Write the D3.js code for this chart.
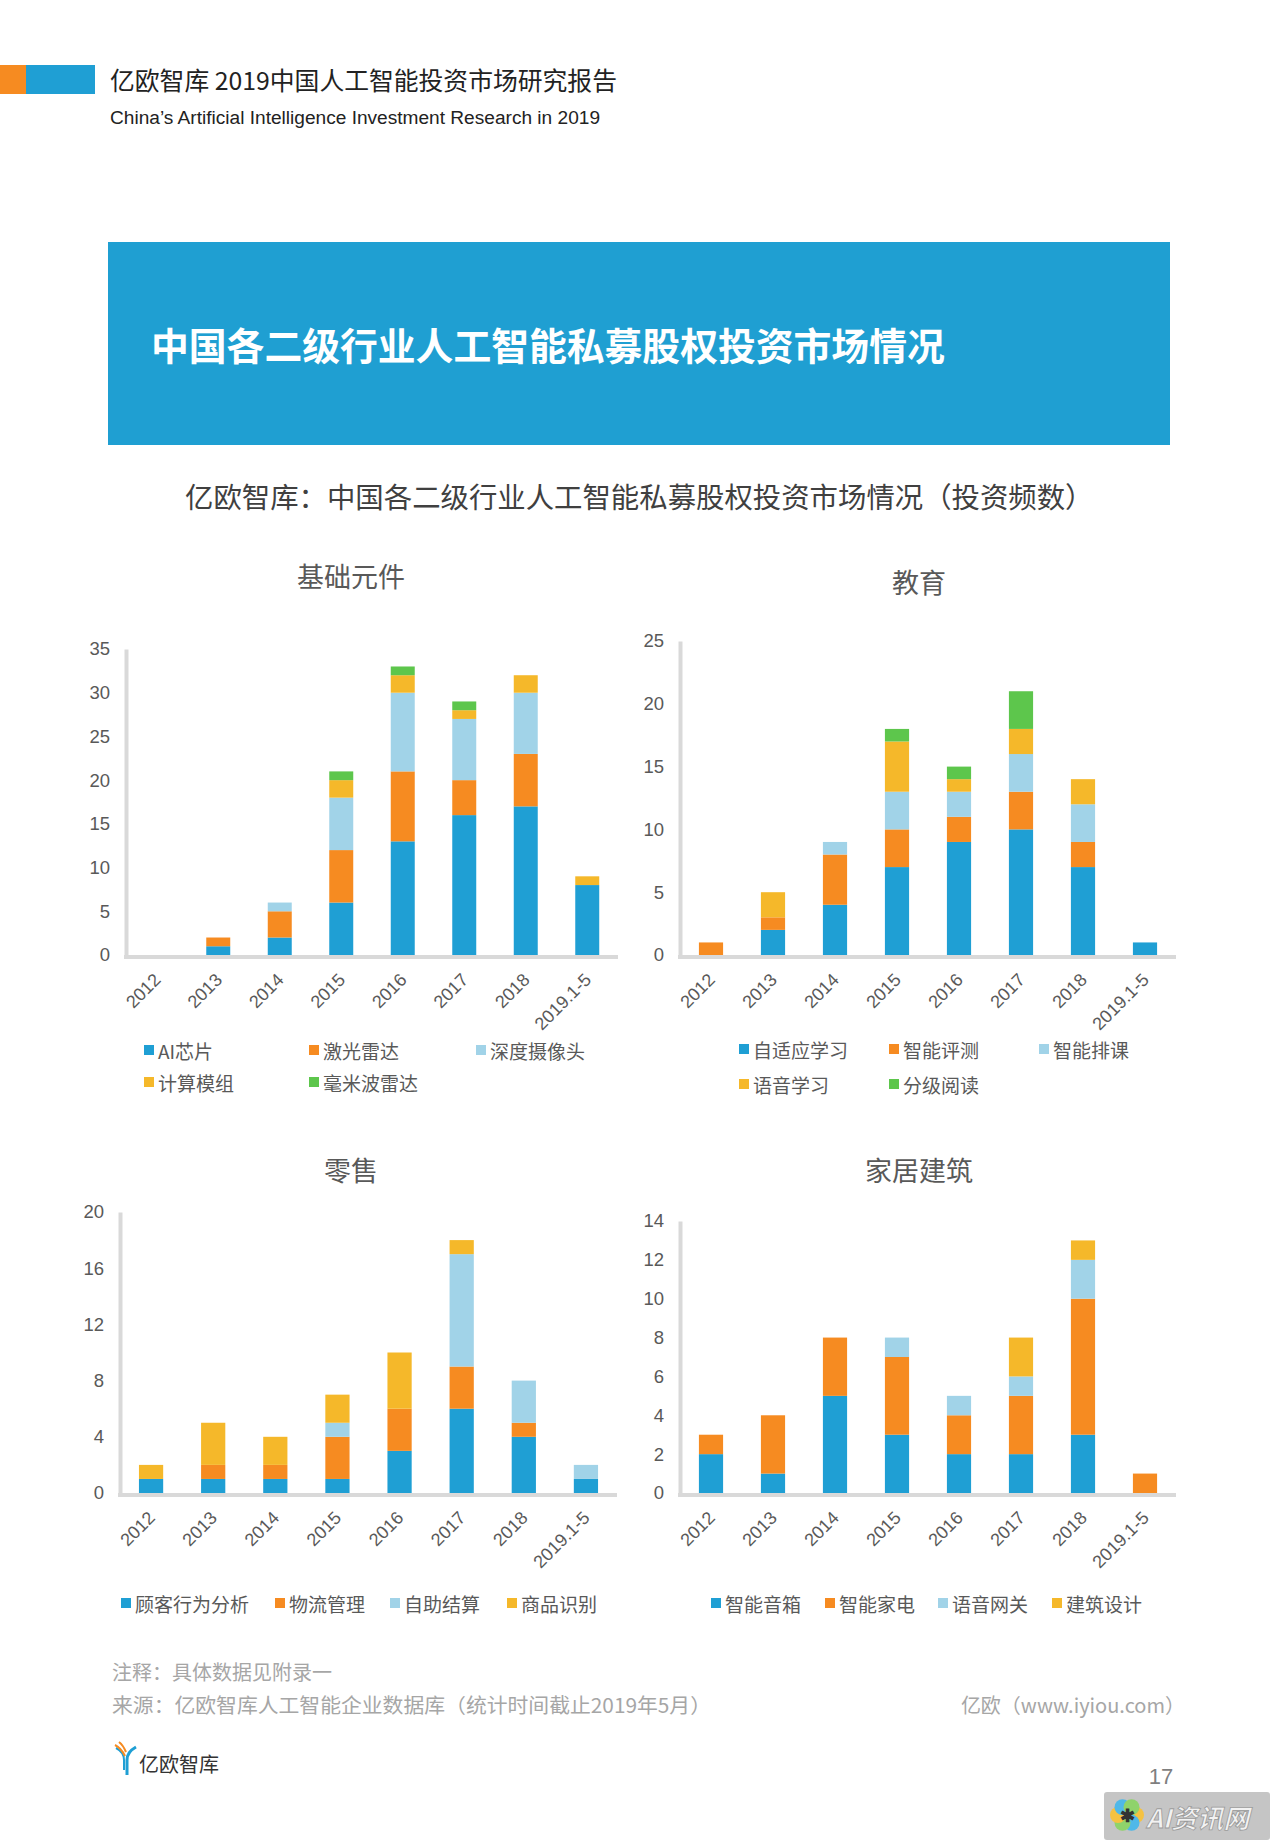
<!DOCTYPE html>
<html><head><meta charset="utf-8">
<script src="https://cdn.jsdelivr.net/npm/d3@7"></script>
<style>
body{margin:0;background:#fff}
svg{display:block}
</style>
</head><body>
<svg id="c" width="1280" height="1848"></svg>
<script>
// ---------- data ----------
const years = ["2012","2013","2014","2015","2016","2017","2018","2019.1-5"];

const basicSeries = ["AI芯片","激光雷达","深度摄像头","计算模组","毫米波雷达"];
const basicAIChip    = [0,1,2,6,13,16,17,8];
const basicLidar     = [0,1,3,6,8,4,6,0];
const basicDepthCam  = [0,0,1,6,9,7,7,0];
const basicCompute   = [0,0,0,2,2,1,2,1];
const basicMmWave    = [0,0,0,1,1,1,0,0];
const basicTicks = [0,5,10,15,20,25,30,35];

const eduSeries = ["自适应学习","智能评测","智能排课","语音学习","分级阅读"];
const eduAdaptive  = [0,2,4,7,9,10,7,1];
const eduAssess    = [1,1,4,3,2,3,2,0];
const eduSchedule  = [0,0,1,3,2,3,3,0];
const eduSpeech    = [0,2,0,4,1,2,2,0];
const eduReading   = [0,0,0,1,1,3,0,0];
const eduTicks = [0,5,10,15,20,25];

const retailSeries = ["顾客行为分析","物流管理","自助结算","商品识别"];
const retailCustomer  = [1,1,1,1,3,6,4,1];
const retailLogistics = [0,1,1,3,3,3,1,0];
const retailCheckout  = [0,0,0,1,0,8,3,1];
const retailProduct   = [1,3,2,2,4,1,0,0];
const retailTicks = [0,4,8,12,16,20];

const homeSeries = ["智能音箱","智能家电","语音网关","建筑设计"];
const homeSpeaker   = [2,1,5,3,2,2,3,0];
const homeAppliance = [1,3,3,4,2,3,7,1];
const homeGateway   = [0,0,0,1,1,1,2,0];
const homeDesign    = [0,0,0,0,0,2,1,0];
const homeTicks = [0,2,4,6,8,10,12,14];

const colors = ["#1f9fd4","#f68b21","#a1d3e8","#f5b82a","#5dc64c"];

// ---------- drawing ----------
const FONT = "'Liberation Sans','Noto Sans CJK SC',sans-serif";
const CJK = "'Noto Sans CJK SC','Liberation Sans',sans-serif";
const svg = d3.select("#c");
svg.append("rect").attr("width",1280).attr("height",1848).attr("fill","#fff");

// header
svg.append("rect").attr("x",0).attr("y",65).attr("width",26).attr("height",29).attr("fill","#f68b21");
svg.append("rect").attr("x",26).attr("y",65).attr("width",69).attr("height",29).attr("fill","#1f9fd4");
svg.append("text").attr("x",110).attr("y",90).attr("font-family",CJK).attr("font-size",24.8)
  .attr("fill","#222").text("亿欧智库 2019中国人工智能投资市场研究报告");
svg.append("text").attr("x",110).attr("y",124).attr("font-family",FONT).attr("font-size",18)
  .attr("fill","#222").attr("textLength",490).attr("lengthAdjust","spacingAndGlyphs")
  .text("China’s Artificial Intelligence Investment Research in 2019");

// banner
svg.append("rect").attr("x",108).attr("y",242).attr("width",1062).attr("height",203).attr("fill","#1f9fd2");
svg.append("text").attr("x",151).attr("y",343).attr("dominant-baseline","central")
  .attr("font-family",CJK).attr("font-size",37.8).attr("font-weight","bold").attr("fill","#fff")
  .text("中国各二级行业人工智能私募股权投资市场情况");

// main title
svg.append("text").attr("x",185).attr("y",495).attr("dominant-baseline","central")
  .attr("font-family",CJK).attr("font-size",28.4).attr("fill","#404040")
  .text("亿欧智库：中国各二级行业人工智能私募股权投资市场情况（投资频数）");

function drawChart(cfg){
  const g = svg.append("g");
  const x = d3.scaleBand().domain(years).range([cfg.left,cfg.right]).paddingInner(0.61).paddingOuter(0.305);
  const y = d3.scaleLinear().domain([0,cfg.ticks[cfg.ticks.length-1]]).range([cfg.bottom,cfg.top]);
  const table = years.map((yr,i)=>{const o={year:yr}; cfg.series.forEach((s,j)=>o[s]=cfg.values[j][i]); return o;});
  const stacked = d3.stack().keys(cfg.series)(table);

  g.append("text").attr("x",cfg.titleX).attr("y",cfg.titleY).attr("text-anchor","middle")
    .attr("dominant-baseline","central").attr("font-family",CJK).attr("font-size",27).attr("fill","#595959")
    .text(cfg.title);

  g.append("g").selectAll("g").data(stacked).join("g").attr("fill",(d,i)=>colors[i])
    .selectAll("rect").data(d=>d).join("rect")
    .attr("x",d=>x(d.data.year)).attr("width",x.bandwidth())
    .attr("y",d=>y(d[1])).attr("height",d=>Math.max(0,y(d[0])-y(d[1])));

  const ya = g.append("g").attr("transform",`translate(${cfg.left},0)`)
    .call(d3.axisLeft(y).tickValues(cfg.ticks).tickSize(0).tickPadding(16));
  ya.attr("font-family",FONT).attr("font-size",18.5);
  ya.select(".domain").attr("stroke","#d9d9d9").attr("stroke-width",4);
  ya.selectAll("text").attr("fill","#595959");

  const xa = g.append("g").attr("transform",`translate(0,${cfg.bottom+2})`)
    .call(d3.axisBottom(x).tickSize(0).tickFormat(""));
  xa.select(".domain").attr("stroke","#d9d9d9").attr("stroke-width",4)
    .attr("d",`M${cfg.left-2},0H${cfg.right}`);

  g.append("g").selectAll("text").data(years).join("text")
    .attr("transform",d=>`translate(${x(d)+x.bandwidth()/2+5},${cfg.bottom+26}) rotate(-45)`)
    .attr("text-anchor","end").attr("font-family",FONT).attr("font-size",18).attr("fill","#595959")
    .text(d=>d);

  const lg = g.append("g").selectAll("g").data(cfg.series).join("g")
    .attr("transform",(d,i)=>`translate(${cfg.legend[i][0]},${cfg.legend[i][1]})`);
  lg.append("rect").attr("x",0).attr("y",-5).attr("width",10).attr("height",10).attr("fill",(d,i)=>colors[i]);
  lg.append("text").attr("x",14).attr("y",0).attr("dominant-baseline","central")
    .attr("font-family",CJK).attr("font-size",19).attr("fill","#595959").text(d=>d);
}

drawChart({title:"基础元件",titleX:351,titleY:575,left:126,right:618,top:649,bottom:955,
  series:basicSeries,values:[basicAIChip,basicLidar,basicDepthCam,basicCompute,basicMmWave],ticks:basicTicks,
  legend:[[144,1050],[309,1050],[476,1050],[144,1082],[309,1082]]});
drawChart({title:"教育",titleX:919,titleY:581,left:680,right:1176,top:641,bottom:955,
  series:eduSeries,values:[eduAdaptive,eduAssess,eduSchedule,eduSpeech,eduReading],ticks:eduTicks,
  legend:[[739,1049],[889,1049],[1039,1049],[739,1084],[889,1084]]});
drawChart({title:"零售",titleX:351,titleY:1169,left:120,right:617,top:1212,bottom:1493,
  series:retailSeries,values:[retailCustomer,retailLogistics,retailCheckout,retailProduct],ticks:retailTicks,
  legend:[[121,1603],[275,1603],[390,1603],[507,1603]]});
drawChart({title:"家居建筑",titleX:919,titleY:1169,left:680,right:1176,top:1221,bottom:1493,
  series:homeSeries,values:[homeSpeaker,homeAppliance,homeGateway,homeDesign],ticks:homeTicks,
  legend:[[711,1603],[825,1603],[938,1603],[1052,1603]]});

// footer
svg.append("text").attr("x",112).attr("y",1671).attr("dominant-baseline","central")
  .attr("font-family",CJK).attr("font-size",20).attr("fill","#a6a6a6").text("注释：具体数据见附录一");
svg.append("text").attr("x",112).attr("y",1704).attr("dominant-baseline","central")
  .attr("font-family",CJK).attr("font-size",20).attr("fill","#a6a6a6")
  .attr("textLength",599).attr("lengthAdjust","spacingAndGlyphs")
  .text("来源：亿欧智库人工智能企业数据库（统计时间截止2019年5月）");
svg.append("text").attr("x",1185).attr("y",1704).attr("dominant-baseline","central").attr("text-anchor","end")
  .attr("font-family",CJK).attr("font-size",20).attr("fill","#a6a6a6").text("亿欧（www.iyiou.com）");

// logo
const logo = svg.append("g");
logo.append("path").attr("d","M127,1775 L127,1760 Q127,1752 136,1747").attr("fill","none").attr("stroke","#1f9fd4").attr("stroke-width",3);
logo.append("path").attr("d","M124,1770 L124,1760 Q124,1752 116,1748").attr("fill","none").attr("stroke","#1f9fd4").attr("stroke-width",2);
logo.append("path").attr("d","M125,1756 Q121,1748 115,1745 M126,1752 Q123,1745 119,1742").attr("fill","none").attr("stroke","#f68b21").attr("stroke-width",2);
logo.append("text").attr("x",139).attr("y",1763).attr("dominant-baseline","central")
  .attr("font-family",CJK).attr("font-size",20).attr("fill","#333").text("亿欧智库");

// page number
svg.append("text").attr("x",1161).attr("y",1776).attr("text-anchor","middle").attr("dominant-baseline","central")
  .attr("font-family",FONT).attr("font-size",22).attr("fill","#7f7f7f").text("17");

// watermark
const wm = svg.append("g");
wm.append("rect").attr("x",1104).attr("y",1792).attr("width",166).attr("height",48).attr("rx",3).attr("fill","#8c8c8c").attr("opacity",0.5);
[["#f5c242",0],["#4fb8e8",60],["#8fd36b",120],["#f5c242",180],["#4fb8e8",240],["#8fd36b",300]].forEach(([c,a])=>{
  const r=a*Math.PI/180;
  wm.append("circle").attr("cx",1127+9*Math.cos(r)).attr("cy",1815+9*Math.sin(r)).attr("r",8).attr("fill",c);
});
wm.append("text").attr("x",1127).attr("y",1816).attr("text-anchor","middle").attr("dominant-baseline","central")
  .attr("font-family",FONT).attr("font-size",18).attr("font-weight","bold").attr("fill","#333").text("✱");
wm.append("text").attr("x",1146).attr("y",1816).attr("dominant-baseline","central")
  .attr("font-family",CJK).attr("font-size",26).attr("font-weight","bold").attr("font-style","italic")
  .attr("fill","#f2f2f2").attr("stroke","#9a9a9a").attr("stroke-width",0.8).text("AI资讯网");
</script>
</body></html>
